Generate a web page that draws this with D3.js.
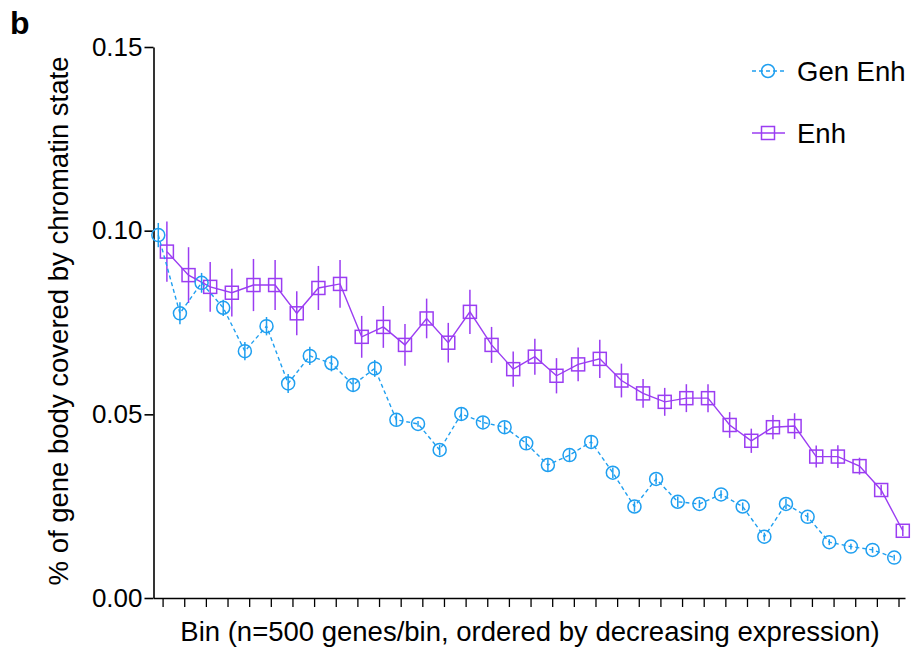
<!DOCTYPE html>
<html>
<head>
<meta charset="utf-8">
<script src="https://cdn.jsdelivr.net/npm/d3@7"></script>
<style>
  body { margin: 0; background: #fff; }
  svg { font-family: "Liberation Sans", Arial, sans-serif; }
</style>
</head>
<body>
<svg width="922" height="649"></svg>
<script>
// bins 1..35 (500 genes per bin, by decreasing expression)
const bins = d3.range(1, 36)

// Gen Enh (circles, dashed)
const genEnh = [0.0988, 0.0775, 0.0858, 0.0790, 0.0672, 0.0740, 0.0584, 0.0659, 0.0639, 0.0580,
  0.0625, 0.0485, 0.0474, 0.0403, 0.0501, 0.0478, 0.0465, 0.0421, 0.0362, 0.0389,
  0.0425, 0.0341, 0.0249, 0.0324, 0.0262, 0.0256, 0.0282, 0.0249, 0.0167, 0.0256,
  0.0221, 0.0152, 0.0140, 0.0131, 0.0110]
const genEnhErr = [0.0033, 0.0030, 0.0027, 0.0022, 0.0025, 0.0025, 0.0026, 0.0025, 0.0022, 0.0019,
  0.0023, 0.0016, 0.0008, 0.0014, 0.0019, 0.0016, 0.0016, 0.0016, 0.0016, 0.0016,
  0.0016, 0.0014, 0.0014, 0.0014, 0.0014, 0.0011, 0.0011, 0.0011, 0.0011, 0.0014,
  0.0011, 0.0008, 0.0008, 0.0008, 0.0008]

// Enh (squares, solid)
const enh = [0.0943, 0.0879, 0.0847, 0.0831, 0.0852, 0.0852, 0.0775, 0.0844, 0.0855, 0.0711,
  0.0738, 0.0689, 0.0761, 0.0695, 0.0779, 0.0689, 0.0623, 0.0657, 0.0605, 0.0636,
  0.0651, 0.0592, 0.0557, 0.0534, 0.0544, 0.0544, 0.0471, 0.0428, 0.0465, 0.0468,
  0.0385, 0.0385, 0.0359, 0.0294, 0.0183]
const enhErr = [0.0082, 0.0076, 0.0068, 0.0065, 0.0071, 0.0068, 0.0060, 0.0060, 0.0065, 0.0057,
  0.0057, 0.0057, 0.0054, 0.0054, 0.0060, 0.0049, 0.0048, 0.0049, 0.0048, 0.0046,
  0.0052, 0.0046, 0.0039, 0.0038, 0.0038, 0.0038, 0.0035, 0.0033, 0.0033, 0.0035,
  0.0030, 0.0031, 0.0023, 0.0014, 0.0014]

const yTicks = [0, 0.05, 0.10, 0.15]
const blue = "#1f9ff0", purple = "#9b3df2"

var svg = d3.select("svg")

var x = d3.scaleLinear().domain([0.58, 35.3]).range([153.5, 905])
var y = d3.scaleLinear().domain([0, 0.15]).range([598, 47])
var dodge = 4.3

// axes
var xAxis = d3.axisBottom(x).tickValues(bins).tickFormat("").tickSize(9).tickSizeOuter(0)
var gx = svg.append("g").attr("transform", "translate(0,598)").call(xAxis)
gx.select(".domain").attr("stroke-width", 1.6)
gx.selectAll(".tick line").attr("stroke-width", 1.3)

var yAxis = d3.axisLeft(y).tickValues(yTicks).tickFormat(d3.format(".2f")).tickSize(9).tickSizeOuter(0)
var gy = svg.append("g").attr("transform", "translate(153.5,0)").call(yAxis)
gy.select(".domain").attr("stroke-width", 1.6)
gy.selectAll(".tick line").attr("stroke-width", 1.6)
gy.selectAll(".tick text").attr("font-size", 26).attr("x", -11).attr("fill", "#000")
  .attr("font-family", "Liberation Sans, Arial, sans-serif")

// series
function drawSeries(vals, errs, color, off, dashed, shape) {
  var g = svg.append("g")
  var pts = bins.map((b, i) => ({ b: b, v: vals[i], e: errs[i] }))
  g.append("path").datum(pts)
    .attr("fill", "none").attr("stroke", color).attr("stroke-width", 1.4)
    .attr("stroke-dasharray", dashed ? "4,3" : null)
    .attr("d", d3.line().x(d => x(d.b) + off).y(d => y(d.v)))
  g.selectAll("line.err").data(pts).join("line").attr("class", "err")
    .attr("x1", d => x(d.b) + off).attr("x2", d => x(d.b) + off)
    .attr("y1", d => y(d.v - d.e)).attr("y2", d => y(d.v + d.e))
    .attr("stroke", color).attr("stroke-width", 1.5)
  if (shape === "circle") {
    g.selectAll("circle").data(pts).join("circle")
      .attr("cx", d => x(d.b) + off).attr("cy", d => y(d.v)).attr("r", 6.5)
      .attr("fill", "none").attr("stroke", color).attr("stroke-width", 1.5)
  } else {
    g.selectAll("rect").data(pts).join("rect")
      .attr("x", d => x(d.b) + off - 6.5).attr("y", d => y(d.v) - 6.5)
      .attr("width", 13).attr("height", 13)
      .attr("fill", "none").attr("stroke", color).attr("stroke-width", 1.5)
  }
}
drawSeries(enh, enhErr, purple, dodge, false, "rect")
drawSeries(genEnh, genEnhErr, blue, -dodge, true, "circle")

// legend
var leg = svg.append("g")
leg.append("line").attr("x1", 752).attr("x2", 785).attr("y1", 71).attr("y2", 71)
  .attr("stroke", blue).attr("stroke-width", 1.4).attr("stroke-dasharray", "4,3")
leg.append("circle").attr("cx", 768).attr("cy", 71).attr("r", 6.5)
  .attr("fill", "none").attr("stroke", blue).attr("stroke-width", 1.5)
leg.append("text").attr("x", 797).attr("y", 81).attr("font-size", 27.5).text("Gen Enh")
leg.append("line").attr("x1", 752).attr("x2", 785).attr("y1", 133).attr("y2", 133)
  .attr("stroke", purple).attr("stroke-width", 1.4)
leg.append("rect").attr("x", 761.5).attr("y", 126.5).attr("width", 13).attr("height", 13)
  .attr("fill", "none").attr("stroke", purple).attr("stroke-width", 1.5)
leg.append("text").attr("x", 797).attr("y", 143).attr("font-size", 27.5).text("Enh")

// titles
svg.append("text").attr("x", 530).attr("y", 641).attr("text-anchor", "middle")
  .attr("font-size", 27.5).text("Bin (n=500 genes/bin, ordered by decreasing expression)")
svg.append("text").attr("transform", "translate(68,321) rotate(-90)").attr("text-anchor", "middle")
  .attr("font-size", 27.5).text("% of gene body covered by chromatin state")
svg.append("text").attr("x", 10).attr("y", 34).attr("font-size", 32).attr("font-weight", "bold").text("b")
</script>
</body>
</html>
